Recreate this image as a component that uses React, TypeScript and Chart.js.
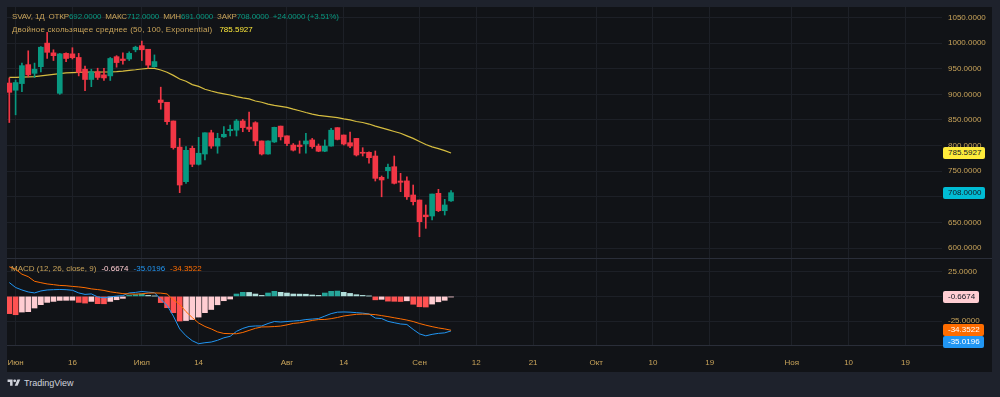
import React, { useEffect, useRef, useState } from 'react';
import { Chart, registerables } from 'chart.js';
Chart.register(...registerables);

// ---- data ----
const opens = [922, 908, 921, 958, 941, 954, 1000, 981, 902, 980, 979, 972, 949, 929, 944, 938, 936, 973.5, 969, 969, 987, 995, 988, 954, 889, 884.5, 848, 797, 729.5, 794.6, 763.4, 783.5, 825, 799, 817, 829, 830, 848, 836, 844.7, 809, 783.5, 807, 838, 819, 801, 801, 803, 811, 799, 789, 799, 835, 820.6, 805.6, 814, 786.8, 786.8, 779.6, 738, 751, 758.7, 730.8, 731, 703.5, 693.7, 664.4, 662.5, 706.8, 672.8, 692];
const highs = [932, 928, 961, 985, 961, 993, 1021, 987, 980, 981, 991, 980, 955, 949, 951, 951, 972, 975.5, 981, 983, 994, 1004, 988, 977, 914, 884.5, 848, 814, 798, 799, 816, 825, 830, 824, 837, 840, 851, 851, 865.5, 846.6, 809, 809, 836, 838, 819, 804, 809, 824, 814, 803, 811, 833.7, 835, 820.6, 826.5, 814, 795.8, 788, 789.4, 740.6, 764, 779.6, 745.8, 739, 723, 693.7, 684, 705.4, 714.6, 695, 712];
const lows = [845, 860, 905, 934, 933, 944, 970, 966, 900, 964, 969, 936, 907, 915, 929, 927, 927, 953, 959, 966, 983, 966, 951, 953, 871, 841.5, 793, 708, 726, 758.7, 762, 771.8, 794.6, 785, 816, 818.7, 818.7, 827, 827, 800, 781.6, 783, 806, 810.8, 800, 789.4, 785, 785, 794.6, 788, 788, 799, 811, 801, 795.8, 779.6, 779.6, 765.4, 730.8, 700, 736, 725, 710, 695, 684, 622, 638.4, 654.7, 671, 664.4, 691];
const closes = [904, 923, 956, 938, 949, 992, 982, 975.5, 979, 970, 971.5, 943, 929, 944, 933, 932, 970, 962, 966, 980, 992, 987, 957, 964, 884, 846.6, 796, 723, 790.7, 763.4, 785, 825, 799, 814, 822, 831.7, 848, 835, 832, 809, 783.5, 809, 835.6, 817, 804, 791, 798, 809, 798, 789, 799, 830, 812, 803, 799, 781.6, 785, 776.3, 736, 732.8, 757.6, 726.3, 728.3, 700, 690.5, 651.4, 661, 705.4, 672.8, 684, 708];
const demaValues = [933, 933, 933.5, 934, 934.5, 936, 937.5, 939, 940.5, 942, 942.5, 943, 943.2, 943.4, 943.5, 943.6, 943.8, 944.5, 945.5, 946.8, 948, 949.5, 950.5, 950.5, 947.5, 943, 937, 930, 925.5, 919, 915.5, 910, 906.5, 903.5, 901, 898.7, 895.5, 893, 891, 887, 884.5, 881, 878.5, 876.5, 874.5, 871, 868, 864.5, 861.5, 859, 857.5, 856, 854.5, 852, 850, 847, 845, 842, 838, 834.5, 831, 827.5, 824, 819, 814, 808, 802, 797.5, 794, 790, 785.5927];
const macdValues = [14, 9, 6.5, 4.5, 3.5, 5.5, 6.5, 6.8, 7.0, 6.8, 6.2, 3.5, 2.0, 2.5, -0.5, -1.5, -0.5, 0.3, 0.8, 3.5, 4.0, 5.0, 4.3, 3.8, -3, -9, -20, -33, -40, -45, -48, -47, -46.3, -44.5, -42, -40.5, -35.5, -32.5, -30.5, -30.0, -30.0, -27.5, -25.5, -26.0, -25.5, -25.0, -24.5, -23.5, -23.0, -22.5, -20.0, -17.5, -16.0, -15.8, -16.0, -16.5, -17.0, -17.8, -22.0, -22.5, -25.3, -26.7, -28.0, -28.5, -33.5, -38.0, -40.0, -38.5, -37.5, -37.0, -35.0196];
const signalValues = [30.0, 27.5, 22.5, 20.0, 15.3, 13.9, 12.6, 11.9, 11.1, 10.8, 10.1, 9.6, 8.8, 7.6, 6.9, 6.0, 4.6, 3.7, 2.8, 2.5, 2.3, 2.6, 3.3, 3.5, 3.3, 2.5, -3.5, -8, -15.5, -21.5, -27, -30.5, -33, -36, -37.6, -37.8, -37.9, -36.6, -34.5, -32.4, -31.0, -30.9, -30.6, -30.1, -28.9, -27.4, -26.8, -25.7, -24.4, -23.5, -23.4, -22.6, -21.4, -19.9, -19.0, -18.2, -18.0, -18.1, -18.5, -19.5, -20.5, -21.7, -22.8, -24.0, -25.5, -27.5, -29.2, -30.7, -32.0, -33.0, -34.3522];
const histValues = [-17.5, -18.6, -15.9, -15.5, -11.8, -8.4, -6.1, -5.1, -4.1, -4.0, -3.9, -6.1, -6.8, -5.1, -7.4, -7.5, -5.1, -3.4, -2.0, 1.0, 1.7, 2.4, 1.0, 0.3, -6.3, -11.5, -16.5, -25.0, -24.5, -23.5, -21.0, -16.5, -13.3, -8.5, -4.4, -2.7, 2.4, 4.1, 4.0, 2.4, 1.0, 3.4, 5.1, 4.1, 3.4, 2.4, 2.3, 2.2, 1.4, 1.0, 3.4, 5.1, 5.4, 4.1, 3.0, 1.7, 1.0, 0.3, -3.5, -3.0, -4.8, -5.0, -5.2, -4.5, -8.0, -10.5, -10.8, -7.8, -5.5, -4.0, -0.6674];
const timeTickSlots = [1, 10, 21, 30, 44, 53, 65, 74, 83, 93, 102, 111, 124, 133, 142];
const timeTickLabels = ['Июн', '16', 'Июл', '14', 'Авг', '14', 'Сен', '12', '21', 'Окт', '10', '19', 'Ноя', '10', '19'];
const priceTicks = [600, 650, 700, 750, 800, 850, 900, 950, 1000, 1050];
const macdTicks = [25, 0, -25];
const symbol = 'SVAV, 1Д';
const demaTitle = 'Двойное скользящее среднее (50, 100, Exponential)';
const macdTitle = 'MACD (12, 26, close, 9)';

// ---- styles ----
const OUTER = '#1e222c';
const PANEL = '#111317';
const GRID = '#1d2027';
const TEXT = '#c9a45a';
const UP = '#089981';
const DOWN = '#f23645';
const FONT = '"Liberation Sans", Arial, sans-serif';
const X_MIN = -0.3645;
const X_MAX = 147.8;
const PANE_LEFT = 7;
const PRICE_TOP = 7;
const PRICE_H = 251;
const MACD_TOP = 259;
const MACD_H = 113;
const AXIS_W = 50;

export default function App() {
  const priceRef = useRef<HTMLCanvasElement>(null);
  const macdRef = useRef<HTMLCanvasElement>(null);
  const [pos, setPos] = useState<any>(null);

  useEffect(() => {
    document.body.style.margin = '0';
    document.body.style.background = OUTER;
    const n = closes.length;
    const idx = Array.from({ length: n }, (_, i) => i);
    const candleColors = idx.map((i) => (closes[i] >= opens[i] ? UP : DOWN));
    const histColors = idx.map((i) => {
      const v = histValues[i];
      const p = i > 0 ? histValues[i - 1] : undefined;
      if (v >= 0) return p === undefined || v >= p ? '#26a69a' : '#b2dfdb';
      return p === undefined || v < p ? '#ff5252' : '#ffcdd2';
    });

    const xTicksHook = (s: any) => {
      s.ticks = timeTickSlots.map((v) => ({ value: v }));
    };
    const xLabel = (v: any) => {
      const k = timeTickSlots.indexOf(Number(v));
      return k >= 0 ? timeTickLabels[k] : '';
    };

    const priceChart = new Chart(priceRef.current!, {
      type: 'bar',
      data: {
        datasets: [
          {
            type: 'line',
            data: idx.map((i) => ({ x: i, y: demaValues[i] })),
            borderColor: '#d6bd40',
            borderWidth: 1.2,
            pointRadius: 0,
            order: 3,
          } as any,
          {
            type: 'bar',
            data: idx.map((i) => ({ x: i, y: [lows[i], highs[i]] })),
            backgroundColor: candleColors,
            barThickness: 1,
            grouped: false,
            order: 2,
          } as any,
          {
            type: 'bar',
            data: idx.map((i) => ({ x: i, y: [Math.min(opens[i], closes[i]), Math.max(opens[i], closes[i])] })),
            backgroundColor: candleColors,
            barThickness: 5,
            minBarLength: 1,
            grouped: false,
            order: 1,
          } as any,
        ],
      },
      options: {
        responsive: false,
        animation: false,
        devicePixelRatio: 1,
        layout: { padding: 0 },
        plugins: { legend: { display: false }, tooltip: { enabled: false } },
        scales: {
          x: {
            type: 'linear',
            offset: false,
            min: X_MIN,
            max: X_MAX,
            afterBuildTicks: xTicksHook,
            ticks: { display: false },
            grid: { color: GRID, drawTicks: false, offset: false },
            border: { display: false },
            afterFit: (s: any) => {
              s.height = 0;
              s.paddingLeft = 0;
              s.paddingRight = 0;
            },
          },
          y: {
            type: 'linear',
            position: 'right',
            min: 580.5,
            max: 1070.5,
            afterBuildTicks: (s: any) => {
              s.ticks = priceTicks.map((v) => ({ value: v }));
            },
            ticks: {
              callback: (v: any) => Number(v).toFixed(4),
              color: TEXT,
              font: { size: 8, family: FONT },
              padding: 6,
            },
            grid: { color: GRID, drawTicks: false },
            border: { display: false },
            afterFit: (s: any) => {
              s.width = AXIS_W;
              s.paddingTop = 0;
              s.paddingBottom = 0;
            },
          },
        },
      } as any,
    });

    const macdChart = new Chart(macdRef.current!, {
      type: 'bar',
      data: {
        datasets: [
          {
            type: 'line',
            data: idx.map((i) => ({ x: i, y: macdValues[i] })),
            borderColor: '#2196f3',
            borderWidth: 1,
            pointRadius: 0,
            order: 1,
          } as any,
          {
            type: 'line',
            data: idx.map((i) => ({ x: i, y: signalValues[i] })),
            borderColor: '#ff6d00',
            borderWidth: 1,
            pointRadius: 0,
            order: 0,
          } as any,
          {
            type: 'bar',
            data: idx.map((i) => ({ x: i, y: histValues[i] })),
            backgroundColor: histColors,
            barThickness: 5,
            grouped: false,
            order: 3,
          } as any,
        ],
      },
      options: {
        responsive: false,
        animation: false,
        devicePixelRatio: 1,
        layout: { padding: 0 },
        plugins: { legend: { display: false }, tooltip: { enabled: false } },
        scales: {
          x: {
            type: 'linear',
            offset: false,
            min: X_MIN,
            max: X_MAX,
            afterBuildTicks: xTicksHook,
            ticks: {
              callback: xLabel,
              color: TEXT,
              font: { size: 8, family: FONT },
              padding: 13,
              autoSkip: false,
              maxRotation: 0,
            },
            grid: { color: GRID, drawTicks: false, offset: false },
            border: { display: true, color: '#2a2e39' },
            afterFit: (s: any) => {
              s.height = 27;
              s.paddingLeft = 0;
              s.paddingRight = 0;
            },
          },
          y: {
            type: 'linear',
            position: 'right',
            min: -49.3,
            max: 37.9,
            afterBuildTicks: (s: any) => {
              s.ticks = macdTicks.map((v) => ({ value: v }));
            },
            ticks: {
              callback: (v: any) => Number(v).toFixed(4),
              color: TEXT,
              font: { size: 8, family: FONT },
              padding: 6,
            },
            grid: { color: GRID, drawTicks: false },
            border: { display: false },
            afterFit: (s: any) => {
              s.width = AXIS_W;
              s.paddingTop = 0;
              s.paddingBottom = 0;
            },
          },
        },
      } as any,
    });

    const py = (v: number) => PRICE_TOP + (priceChart.scales.y as any).getPixelForValue(v);
    const my = (v: number) => MACD_TOP + (macdChart.scales.y as any).getPixelForValue(v);
    const orangeY = my(signalValues[n - 1]);
    const blueY = Math.max(my(macdValues[n - 1]), orangeY + 12);
    setPos({
      dema: py(demaValues[n - 1]),
      close: py(closes[n - 1]),
      hist: my(histValues[n - 1]),
      signal: orangeY,
      macd: blueY,
    });

    return () => {
      priceChart.destroy();
      macdChart.destroy();
    };
  }, []);

  const n = closes.length;
  const change = closes[n - 1] - closes[n - 2];
  const changePct = (change / closes[n - 2]) * 100;
  const sign = (v: number) => (v >= 0 ? '+' : '');

  const tag = (top: number, bg: string, color: string, text: string) => (
    <div
      style={{
        position: 'absolute',
        left: 943,
        top: top - 6,
        height: 12,
        lineHeight: '12px',
        padding: '0 4px 0 5px',
        background: bg,
        color,
        fontSize: 8,
        borderRadius: 2,
        whiteSpace: 'nowrap',
      }}
    >
      {text}
    </div>
  );

  return (
    <div
      style={{
        position: 'relative',
        width: 1000,
        height: 397,
        background: OUTER,
        overflow: 'hidden',
        fontFamily: FONT,
      }}
    >
      <div style={{ position: 'absolute', left: PANE_LEFT, top: PRICE_TOP, width: 985, height: 365, background: PANEL }} />
      <canvas
        ref={priceRef}
        width={985}
        height={PRICE_H}
        style={{ position: 'absolute', left: PANE_LEFT, top: PRICE_TOP, width: 985, height: PRICE_H }}
      />
      <div style={{ position: 'absolute', left: PANE_LEFT, top: 258, width: 985, height: 1, background: '#2a2e39' }} />
      <canvas
        ref={macdRef}
        width={985}
        height={MACD_H}
        style={{ position: 'absolute', left: PANE_LEFT, top: MACD_TOP, width: 985, height: MACD_H }}
      />

      <div style={{ position: 'absolute', left: 12, top: 11, fontSize: 8, lineHeight: '11px', color: TEXT, whiteSpace: 'nowrap', letterSpacing: '-0.15px' }}>
        <span>{symbol}</span>
        <span style={{ marginLeft: 4 }}>ОТКР<span style={{ color: UP }}>{opens[n - 1].toFixed(4)}</span></span>
        <span style={{ marginLeft: 4 }}>МАКС<span style={{ color: UP }}>{highs[n - 1].toFixed(4)}</span></span>
        <span style={{ marginLeft: 4 }}>МИН<span style={{ color: UP }}>{lows[n - 1].toFixed(4)}</span></span>
        <span style={{ marginLeft: 4 }}>ЗАКР<span style={{ color: UP }}>{closes[n - 1].toFixed(4)}</span></span>
        <span style={{ marginLeft: 4, color: UP }}>
          {sign(change) + change.toFixed(4)} ({sign(changePct) + changePct.toFixed(2)}%)
        </span>
      </div>
      <div style={{ position: 'absolute', left: 12, top: 24, fontSize: 8, lineHeight: '11px', color: TEXT, whiteSpace: 'nowrap' }}>
        <span style={{ letterSpacing: '0.18px' }}>{demaTitle}</span>
        <span style={{ marginLeft: 7, color: '#ffeb3b' }}>{demaValues[n - 1].toFixed(4)}</span>
      </div>
      <div style={{ position: 'absolute', left: 11, top: 263, fontSize: 8, lineHeight: '11px', color: TEXT, whiteSpace: 'nowrap' }}>
        <span>{macdTitle}</span>
        <span style={{ marginLeft: 5, color: '#ffcdd2' }}>{histValues[n - 1].toFixed(4)}</span>
        <span style={{ marginLeft: 5, color: '#2196f3' }}>{macdValues[n - 1].toFixed(4)}</span>
        <span style={{ marginLeft: 5, color: '#ff6d00' }}>{signalValues[n - 1].toFixed(4)}</span>
      </div>

      {pos && tag(pos.dema, '#ffeb3b', '#131722', demaValues[n - 1].toFixed(4))}
      {pos && tag(pos.close, '#00bcd4', '#131722', closes[n - 1].toFixed(4))}
      {pos && tag(pos.hist, '#ffcdd2', '#131722', histValues[n - 1].toFixed(4))}
      {pos && tag(pos.signal, '#ff6d00', '#ffffff', signalValues[n - 1].toFixed(4))}
      {pos && tag(pos.macd, '#2196f3', '#ffffff', macdValues[n - 1].toFixed(4))}

      <div style={{ position: 'absolute', left: 7, top: 378, display: 'flex', alignItems: 'center', color: '#d1d4dc', fontSize: 9 }}>
        <svg width="14" height="10" viewBox="0 0 36 28">
          <path d="M14 22H7V11H0V4h14v18zM28 22h-8l7.5-18h8L28 22z" fill="#d1d4dc" />
          <circle cx="20" cy="8" r="4" fill="#d1d4dc" />
        </svg>
        <span style={{ marginLeft: 3 }}>TradingView</span>
      </div>
    </div>
  );
}
